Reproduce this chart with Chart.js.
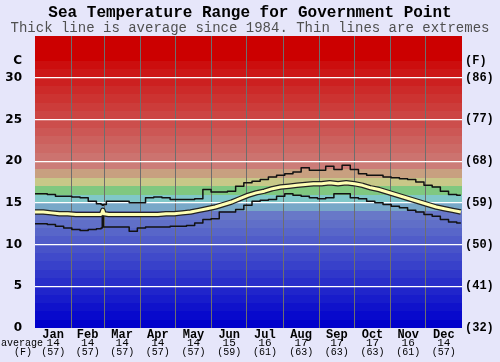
<!DOCTYPE html>
<html>
<head>
<meta charset="utf-8">
<script src="https://cdn.jsdelivr.net/npm/chart.js@4"></script>
<style>
  body { margin: 0; background: #e6e6fa; }
  canvas { display: block; }
</style>
</head>
<body>
<canvas id="sea" width="500" height="362"></canvas>
<script>
// day of year for each reading
const days = [0, 7, 14, 21, 28, 35, 42, 49, 56, 57, 58, 59,
  63, 70, 77, 84, 91, 98, 105, 112, 119, 126, 133, 140, 147, 154, 161, 168,
  175, 182, 189, 196, 203, 210, 217, 224, 231, 238, 245, 252, 259, 266,
  273, 280, 287, 294, 301, 308, 315, 322, 329, 336, 343, 350, 357, 364];

const avgTemp = [13.9, 13.9, 13.8, 13.7, 13.7, 13.6, 13.6, 13.6, 13.6, 13.7, 14.1, 13.7,
  13.6, 13.6, 13.6, 13.6, 13.6, 13.6, 13.6, 13.7, 13.7, 13.8, 13.9, 14.1, 14.3, 14.5, 14.8, 15.1,
  15.5, 15.9, 16.2, 16.4, 16.7, 16.9, 17.0, 17.1, 17.2, 17.3, 17.3, 17.4, 17.3, 17.4,
  17.3, 17.1, 16.8, 16.6, 16.3, 16.0, 15.7, 15.4, 15.1, 14.8, 14.5, 14.3, 14.1, 13.9];

const maxTemp = [16.1, 16.1, 16.0, 15.8, 15.8, 15.7, 15.6, 15.2, 14.9, 14.8, 14.7, 14.8,
  15.2, 15.2, 15.2, 15.0, 15.0, 15.6, 15.7, 15.6, 15.4, 15.4, 15.4, 15.5, 16.6, 16.3, 16.3, 16.4,
  17.0, 17.4, 17.6, 17.8, 18.1, 18.3, 18.5, 18.7, 19.2, 18.9, 18.9, 19.4, 19.0, 19.5,
  19.0, 18.5, 18.3, 18.3, 18.1, 18.0, 17.9, 17.8, 17.5, 17.1, 16.9, 16.4, 16.0, 15.9];

const minTemp = [12.5, 12.5, 12.4, 12.2, 12.0, 11.8, 11.7, 11.8, 11.9, 12.0, 14.0, 12.1,
  12.1, 12.1, 12.1, 11.6, 12.0, 12.1, 12.1, 12.1, 12.2, 12.2, 12.3, 12.6, 13.0, 13.1, 13.9, 13.9,
  14.2, 14.7, 15.2, 15.3, 15.4, 15.8, 16.1, 15.9, 15.8, 15.6, 15.5, 15.6, 16.1, 16.1,
  15.6, 15.5, 15.2, 15.0, 14.8, 14.6, 14.4, 14.1, 13.9, 13.6, 13.4, 13.0, 12.7, 12.6];

const months = ['Jan', 'Feb', 'Mar', 'Apr', 'May', 'Jun', 'Jul', 'Aug', 'Sep', 'Oct', 'Nov', 'Dec'];
const monthStart = [0, 31, 59, 90, 120, 151, 181, 212, 243, 273, 304, 334, 365];
const monthAvgC = [14, 14, 14, 14, 14, 15, 16, 17, 17, 17, 16, 14];
const monthAvgF = [57, 57, 57, 57, 57, 59, 61, 63, 63, 63, 61, 57];

const yTicks = [0, 5, 10, 15, 20, 25, 30];
const fLabels = ['(32)', '(41)', '(50)', '(59)', '(68)', '(77)', '(86)'];

const mono = "'Liberation Mono', 'DejaVu Sans Mono', monospace";
const monthMid = months.map((m, i) => (monthStart[i] + monthStart[i + 1]) / 2);

function pts(vals) {
  return days.map((d, i) => ({ x: d, y: vals[i] }));
}

function mix(a, b, f) {
  return 'rgb(' + a.map((v, i) => Math.round(v + (b[i] - v) * f)).join(',') + ')';
}

// colour for the 1 degree band starting at t
function bandColor(t) {
  if (t >= 32) return 'rgb(204,0,0)';
  if (t >= 19) return mix([204, 124, 120], [204, 14, 14], (t - 19) / 12);
  if (t === 18) return 'rgb(200,160,128)';
  if (t === 17) return 'rgb(200,200,136)';
  if (t === 16) return 'rgb(128,200,128)';
  if (t === 15) return 'rgb(128,200,200)';
  if (t === 14) return 'rgb(120,168,200)';
  return mix([0, 0, 204], [104, 120, 200], t / 13);
}

const bands = {
  id: 'bands',
  beforeDraw(chart) {
    const { ctx, chartArea: a, scales } = chart;
    ctx.save();
    ctx.fillStyle = '#e6e6fa';
    ctx.fillRect(0, 0, chart.width, chart.height);
    const y = scales.y;
    for (let t = 0; t < 35; t++) {
      const top = Math.round(y.getPixelForValue(t + 1));
      const bot = Math.round(y.getPixelForValue(t));
      ctx.fillStyle = bandColor(t);
      ctx.fillRect(a.left, top, a.right - a.left, bot - top);
    }
    ctx.restore();
  },
  afterDraw(chart) {
    const { ctx, scales } = chart;
    ctx.save();
    ctx.fillStyle = '#000';
    ctx.textBaseline = 'middle';
    ctx.textAlign = 'center';
    monthMid.forEach((m, i) => {
      const x = scales.x.getPixelForValue(m);
      ctx.font = '11px ' + mono;
      ctx.fillText(String(monthAvgC[i]), x, 343);
      ctx.font = '10px ' + mono;
      ctx.fillText('(' + monthAvgF[i] + ')', x, 352);
    });
    ctx.textAlign = 'left';
    ctx.font = '10px ' + mono;
    ctx.fillText('average', 1, 343);
    ctx.fillText('(F)', 14, 352);
    ctx.restore();
  }
};

new Chart(document.getElementById('sea'), {
  type: 'line',
  data: {
    datasets: [
      { data: pts(avgTemp), borderColor: '#ffffb4', borderWidth: 3, order: 0 },
      { data: pts(avgTemp), borderColor: '#222', borderWidth: 5.5, order: 1 },
      { data: pts(maxTemp), borderColor: '#111', borderWidth: 1.5, stepped: 'middle', order: 2 },
      { data: pts(minTemp), borderColor: '#111', borderWidth: 1.5, stepped: 'middle', order: 2 }
    ]
  },
  options: {
    responsive: false,
    animation: false,
    layout: { padding: 0 },
    elements: { point: { radius: 0 }, line: { tension: 0, borderJoinStyle: 'round' } },
    plugins: {
      legend: { display: false },
      tooltip: { enabled: false },
      title: {
        display: true,
        text: 'Sea Temperature Range for Government Point',
        color: '#000',
        font: { family: mono, size: 16, weight: 'bold', lineHeight: 1 },
        padding: { top: 5, bottom: 0 }
      },
      subtitle: {
        display: true,
        text: 'Thick line is average since 1984. Thin lines are extremes',
        color: '#505050',
        font: { family: mono, size: 14, lineHeight: 1 },
        padding: { top: 0, bottom: 1 }
      }
    },
    scales: {
      x: {
        type: 'linear',
        min: 0,
        max: 365,
        afterBuildTicks(axis) {
          const ticks = monthStart.slice(1, 12).concat(monthMid);
          axis.ticks = ticks.map(v => ({ value: v }));
        },
        afterFit(axis) { axis.height = 34; },
        border: { display: false },
        grid: {
          drawTicks: false,
          lineWidth: 1,
          color: ctx => (monthStart.includes(ctx.tick && ctx.tick.value) ? '#6e6e6e' : 'rgba(0,0,0,0)')
        },
        ticks: {
          autoSkip: false,
          maxRotation: 0,
          padding: 0,
          color: '#000',
          font: { family: mono, size: 12, weight: 'bold', lineHeight: 1.1 },
          callback: v => {
            const i = monthMid.indexOf(v);
            return i >= 0 ? months[i] : '';
          }
        }
      },
      y: {
        position: 'left',
        min: 0,
        max: 35,
        afterBuildTicks(axis) {
          axis.ticks = yTicks.concat([32]).map(v => ({ value: v }));
        },
        afterFit(axis) { axis.width = 35; },
        border: { display: false },
        grid: {
          drawTicks: false,
          lineWidth: 1.2,
          color: ctx => (ctx.tick && (ctx.tick.value === 0 || ctx.tick.value === 32) ? 'rgba(0,0,0,0)' : '#ffffff')
        },
        ticks: {
          padding: 13,
          color: '#000',
          font: { family: "'DejaVu Sans', sans-serif", size: 12, weight: 'bold' },
          callback: v => (v === 32 ? 'C' : String(v))
        }
      },
      yF: {
        position: 'right',
        min: 0,
        max: 35,
        afterBuildTicks(axis) {
          axis.ticks = yTicks.concat([32]).map(v => ({ value: v }));
        },
        afterFit(axis) { axis.width = 38; },
        border: { display: false },
        grid: { display: false, drawTicks: false },
        ticks: {
          padding: 3,
          color: '#000',
          font: { family: mono, size: 12, weight: 'bold' },
          callback: v => (v === 32 ? '(F)' : fLabels[yTicks.indexOf(v)])
        }
      }
    }
  },
  plugins: [bands]
});
</script>
</body>
</html>
